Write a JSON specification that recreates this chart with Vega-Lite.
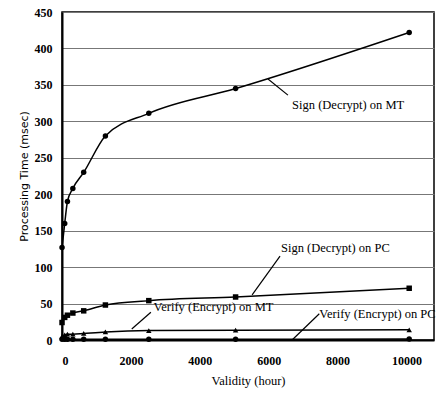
{
  "$schema": "https://vega.github.io/schema/vega-lite/v6.json",
  "width": 372,
  "height": 328,
  "autosize": {"type": "none"},
  "padding": {"left": 62, "top": 12, "right": 2, "bottom": 55},
  "background": "white",
  "config": {
    "view": {"stroke": "black", "strokeWidth": 1.5}
  },
  "datasets": {
    "series": [
      {"validity": 1, "time": 127, "series": "Sign (Decrypt) on MT"},
      {"validity": 79, "time": 160, "series": "Sign (Decrypt) on MT"},
      {"validity": 158, "time": 190, "series": "Sign (Decrypt) on MT"},
      {"validity": 315, "time": 208, "series": "Sign (Decrypt) on MT"},
      {"validity": 630, "time": 230, "series": "Sign (Decrypt) on MT"},
      {"validity": 1260, "time": 280, "series": "Sign (Decrypt) on MT"},
      {"validity": 2520, "time": 311, "series": "Sign (Decrypt) on MT"},
      {"validity": 5040, "time": 345, "series": "Sign (Decrypt) on MT"},
      {"validity": 10080, "time": 422, "series": "Sign (Decrypt) on MT"},
      {"validity": 1, "time": 24, "series": "Sign (Decrypt) on PC"},
      {"validity": 79, "time": 31, "series": "Sign (Decrypt) on PC"},
      {"validity": 158, "time": 34, "series": "Sign (Decrypt) on PC"},
      {"validity": 315, "time": 37, "series": "Sign (Decrypt) on PC"},
      {"validity": 630, "time": 40, "series": "Sign (Decrypt) on PC"},
      {"validity": 1260, "time": 48, "series": "Sign (Decrypt) on PC"},
      {"validity": 2520, "time": 54, "series": "Sign (Decrypt) on PC"},
      {"validity": 5040, "time": 59, "series": "Sign (Decrypt) on PC"},
      {"validity": 10080, "time": 71, "series": "Sign (Decrypt) on PC"},
      {"validity": 1, "time": 5, "series": "Verify (Encrypt) on MT"},
      {"validity": 79, "time": 7, "series": "Verify (Encrypt) on MT"},
      {"validity": 158, "time": 8, "series": "Verify (Encrypt) on MT"},
      {"validity": 315, "time": 8, "series": "Verify (Encrypt) on MT"},
      {"validity": 630, "time": 9, "series": "Verify (Encrypt) on MT"},
      {"validity": 1260, "time": 11, "series": "Verify (Encrypt) on MT"},
      {"validity": 2520, "time": 13, "series": "Verify (Encrypt) on MT"},
      {"validity": 5040, "time": 13.5, "series": "Verify (Encrypt) on MT"},
      {"validity": 10080, "time": 14, "series": "Verify (Encrypt) on MT"},
      {"validity": 1, "time": 1, "series": "Verify (Encrypt) on PC"},
      {"validity": 79, "time": 1, "series": "Verify (Encrypt) on PC"},
      {"validity": 158, "time": 1, "series": "Verify (Encrypt) on PC"},
      {"validity": 315, "time": 1, "series": "Verify (Encrypt) on PC"},
      {"validity": 630, "time": 1, "series": "Verify (Encrypt) on PC"},
      {"validity": 1260, "time": 1, "series": "Verify (Encrypt) on PC"},
      {"validity": 2520, "time": 1, "series": "Verify (Encrypt) on PC"},
      {"validity": 5040, "time": 1, "series": "Verify (Encrypt) on PC"},
      {"validity": 10080, "time": 1.5, "series": "Verify (Encrypt) on PC"}
    ],
    "labels": [
      {"label": "Sign (Decrypt) on MT", "validity": 6680, "time": 322},
      {"label": "Sign (Decrypt) on PC", "validity": 6360, "time": 126},
      {"label": "Verify (Encrypt) on MT", "validity": 2660, "time": 45},
      {"label": "Verify (Encrypt) on PC", "validity": 7470, "time": 36}
    ],
    "leaders": [
      {"validity": 5980, "time": 358, "validity2": 6560, "time2": 336},
      {"validity": 5520, "time": 62, "validity2": 6330, "time2": 115},
      {"validity": 2025, "time": 15, "validity2": 2580, "time2": 38},
      {"validity": 6680, "time": 0, "validity2": 7470, "time2": 36}
    ]
  },
  "encoding": {
    "x": {"field": "validity", "type": "quantitative", "scale": {"domain": [0, 10800], "nice": false, "zero": false},
      "axis": {"values": [0, 2000, 4000, 6000, 8000, 10000], "format": "d", "grid": false, "ticks": false, "domainColor": "black", "domainWidth": 2,
        "labelFont": "Liberation Serif", "labelFontSize": 12, "labelFontWeight": "bold", "labelColor": "black", "labelPadding": 15, "labelOverlap": false,
        "title": "Validity (hour)", "titleFont": "Liberation Serif", "titleFontSize": 12.5, "titleFontWeight": "normal", "titleColor": "black", "titlePadding": 8}},
    "y": {"field": "time", "type": "quantitative", "scale": {"domain": [0, 450], "nice": false},
      "axis": {"values": [0, 50, 100, 150, 200, 250, 300, 350, 400, 450], "format": "d", "grid": true, "gridColor": "#777", "gridWidth": 1, "ticks": false, "domainColor": "black", "domainWidth": 2,
        "labelFont": "Liberation Serif", "labelFontSize": 12, "labelFontWeight": "bold", "labelColor": "black", "labelPadding": 10, "labelOverlap": false,
        "title": "Processing Time (msec)", "titleFont": "DejaVu Sans", "titleFontSize": 11, "titleFontWeight": "normal", "titleColor": "black", "titlePadding": 5}}
  },
  "layer": [
    {
      "data": {"name": "series"},
      "mark": {"type": "line", "color": "black", "strokeWidth": 1.5, "interpolate": "monotone", "clip": true},
      "encoding": {
        "detail": {"field": "series"}
      }
    },
    {
      "data": {"name": "series"},
      "mark": {"type": "point", "filled": true, "color": "black", "opacity": 1, "size": 30},
      "encoding": {
        "shape": {"field": "series", "type": "nominal", "legend": null, "scale": {"domain": ["Sign (Decrypt) on MT", "Sign (Decrypt) on PC", "Verify (Encrypt) on MT", "Verify (Encrypt) on PC"], "range": ["circle", "square", "triangle-up", "circle"]}}
      }
    },
    {
      "data": {"name": "leaders"},
      "mark": {"type": "rule", "color": "black", "strokeWidth": 1.2},
      "encoding": {
        "x2": {"field": "validity2"},
        "y2": {"field": "time2"}
      }
    },
    {
      "data": {"name": "labels"},
      "mark": {"type": "text", "align": "left", "baseline": "middle", "font": "Liberation Serif", "fontSize": 12.5, "color": "black"},
      "encoding": {
        "text": {"field": "label"}
      }
    }
  ]
}
